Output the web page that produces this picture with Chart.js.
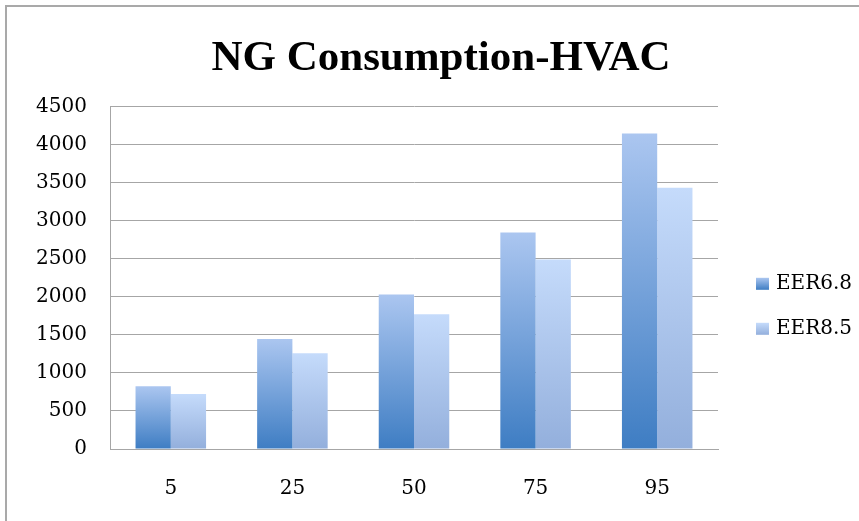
<!DOCTYPE html>
<html>
<head>
<meta charset="utf-8">
<script src="https://cdn.jsdelivr.net/npm/chart.js@4"></script>
<style>
  html, body { margin: 0; padding: 0; background: #fff; overflow: hidden; }
  #frame {
    position: absolute; left: 5px; top: 5px;
    width: 880px; height: 530px;
    border-left: 2px solid #a9a9a9; border-top: 2px solid #a9a9a9;
  }
  #wrap { position: absolute; left: 0; top: 0; width: 868px; height: 522px; }
</style>
</head>
<body>
<div id="frame"><div id="wrap"><canvas id="ngChart"></canvas></div></div>
<script>
const categories = ['5', '25', '50', '75', '95'];
const eer68 = [825, 1445, 2030, 2845, 4145];
const eer85 = [722, 1258, 1770, 2490, 3435];
const seriesNames = ['EER6.8', 'EER8.5'];
const yTicksMax = 4500;
const yTickStep = 500;

// top colour, bottom colour, fallback colour
const shades = [
  ['#abc6f0', '#3e7dc3', '#5f93d4'],
  ['#c5dbfb', '#93afdc', '#aac6f1']
];

function barFill(i) {
  return function (ctx) {
    const chart = ctx.chart;
    if (ctx.type !== 'data' || !chart.chartArea) return shades[i][2];
    const y = chart.scales.y;
    const top = y.getPixelForValue(ctx.raw);
    const bot = y.getPixelForValue(0);
    if (!isFinite(top) || bot - top < 1) return shades[i][2];
    const g = chart.ctx.createLinearGradient(0, top, 0, bot);
    g.addColorStop(0, shades[i][0]);
    g.addColorStop(1, shades[i][1]);
    return g;
  };
}

const serif = "'DejaVu Serif', 'Liberation Serif', serif";

// legend drawn beside the plot, Excel style (small box, short gap)
const sideLegend = {
  id: 'sideLegend',
  afterDraw(chart) {
    const c = chart.ctx;
    const area = chart.chartArea;
    const mid = (area.top + area.bottom) / 2;
    c.save();
    c.font = '20px ' + serif;
    c.textBaseline = 'middle';
    chart.data.datasets.forEach(function (ds, i) {
      const cy = mid + 6 + i * 45;
      const bx = area.right + 38;
      const g = c.createLinearGradient(0, cy - 6, 0, cy + 6);
      g.addColorStop(0, shades[i][0]);
      g.addColorStop(1, shades[i][1]);
      c.fillStyle = g;
      c.fillRect(bx, cy - 6, 13, 12);
      c.fillStyle = '#000';
      c.fillText(ds.label, bx + 20, cy);
    });
    c.restore();
  }
};

new Chart(document.getElementById('ngChart'), {
  type: 'bar',
  data: {
    labels: categories,
    datasets: [
      { label: seriesNames[0], data: eer68, backgroundColor: barFill(0), borderWidth: 0 },
      { label: seriesNames[1], data: eer85, backgroundColor: barFill(1), borderWidth: 0 }
    ]
  },
  options: {
    responsive: true,
    maintainAspectRatio: false,
    animation: false,
    categoryPercentage: 0.58,
    barPercentage: 1.0,
    layout: { padding: 0 },
    plugins: {
      tooltip: { enabled: false },
      legend: { display: false },
      title: {
        display: true,
        text: 'NG Consumption-HVAC',
        color: '#000',
        font: { family: "'Liberation Serif', serif", weight: 'bold', size: 43 },
        padding: { top: 26, bottom: 22 }
      }
    },
    scales: {
      x: {
        grid: { display: false, drawTicks: false },
        border: { display: true, color: '#a6a6a6', width: 1 },
        ticks: { color: '#000', padding: 28, font: { family: serif, size: 20 } }
      },
      y: {
        min: 0,
        max: yTicksMax,
        afterFit: function (scale) { scale.width = 103; },
        grid: { color: '#a6a6a6', lineWidth: 1, drawTicks: false },
        border: { display: true, color: '#a6a6a6', width: 1 },
        ticks: {
          stepSize: yTickStep, color: '#000', padding: 23,
          font: { family: serif, size: 20 },
          callback: function (v) { return String(v); }
        }
      },
      // empty right-hand box that keeps room for the legend
      legendSpace: {
        position: 'right',
        min: 0,
        max: 1,
        afterFit: function (scale) { scale.width = 157; },
        grid: { display: false, drawTicks: false },
        border: { display: false },
        ticks: { display: false }
      }
    }
  },
  plugins: [sideLegend]
});
</script>
</body>
</html>
